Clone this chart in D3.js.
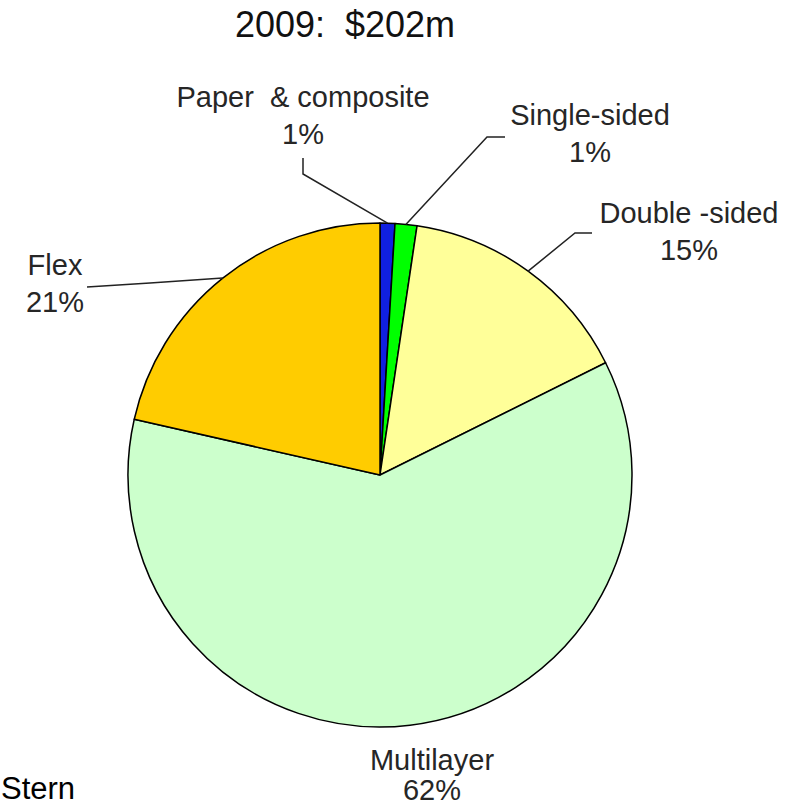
<!doctype html>
<html lang="en">
<head>
  <meta charset="utf-8">
  <title>2009: $202m</title>
  <script src="https://d3js.org/d3.v7.min.js"></script>
  <style>
    body { margin:0; background:#fff; }
    text { font-family:"Liberation Sans", Arial, sans-serif; }
    .lbl { font-size:29px; fill:#262626; white-space:pre; }
  </style>
</head>
<body>
<div id="chart"></div>
<script>
// values (share of the pie, %)
var categories = ["Paper  & composite", "Single-sided", "Double -sided", "Multilayer", "Flex"];
var shares = [0.95, 1.4, 15.3, 60.9, 21.45];
var pctLabels = ["1%", "1%", "15%", "62%", "21%"];
var colors = ["#1020e0", "#00ff00", "#ffff99", "#ccffcc", "#ffcc00"];

var width = 792, height = 807;
var cx = 380, cy = 475, r = 252;

// where each label sits and the elbow of its leader line
var labelLayout = {
  "Paper  & composite": { x: 303, y: 107, gap: 37, elbow: [[303, 158], [303, 174]] },
  "Single-sided":       { x: 590, y: 125, gap: 37, elbow: [[505, 137], [487, 137]] },
  "Double -sided":      { x: 689, y: 223, gap: 37, elbow: [[592, 233], [575, 233]] },
  "Multilayer":         { x: 432, y: 770, gap: 30, elbow: null },
  "Flex":               { x: 55,  y: 275, gap: 37, elbow: [[87, 287], [150, 283]] }
};

var svg = d3.select("#chart").append("svg")
  .attr("width", width)
  .attr("height", height);

svg.append("text")
  .attr("x", 345).attr("y", 37)
  .attr("text-anchor", "middle")
  .style("font-size", "36px")
  .style("white-space", "pre")
  .attr("fill", "#111")
  .text("2009:  $202m");

var pie = d3.pie().sort(null).value(function(d){ return d; });
var arcs = pie(shares);

var arc = d3.arc().innerRadius(0).outerRadius(r);
var rim = d3.arc().innerRadius(r).outerRadius(r);

var g = svg.append("g").attr("transform", "translate(" + cx + "," + cy + ")");

g.selectAll("path")
  .data(arcs)
  .enter().append("path")
  .attr("d", arc)
  .attr("fill", function(d, i){ return colors[i]; })
  .attr("stroke", "#000")
  .attr("stroke-width", 1.5)
  .attr("stroke-linejoin", "round");

// leader lines: elbow points -> middle of slice on the rim
var line = d3.line();
arcs.forEach(function(d, i){
  var lay = labelLayout[categories[i]];
  if (!lay.elbow) return;
  var c = rim.centroid(d);
  var pts = lay.elbow.concat([[c[0] + cx, c[1] + cy]]);
  svg.append("path")
    .attr("d", line(pts))
    .attr("fill", "none")
    .attr("stroke", "#222")
    .attr("stroke-width", 1.5);
});

categories.forEach(function(name, i){
  var lay = labelLayout[name];
  var t = svg.append("text")
    .attr("class", "lbl")
    .attr("text-anchor", "middle")
    .attr("x", lay.x).attr("y", lay.y);
  t.append("tspan").attr("x", lay.x).text(name);
  t.append("tspan").attr("x", lay.x).attr("dy", lay.gap).text(pctLabels[i]);
});

svg.append("text")
  .attr("x", 1).attr("y", 799)
  .style("font-size", "31px")
  .attr("fill", "#000")
  .text("Stern");
</script>
</body>
</html>
